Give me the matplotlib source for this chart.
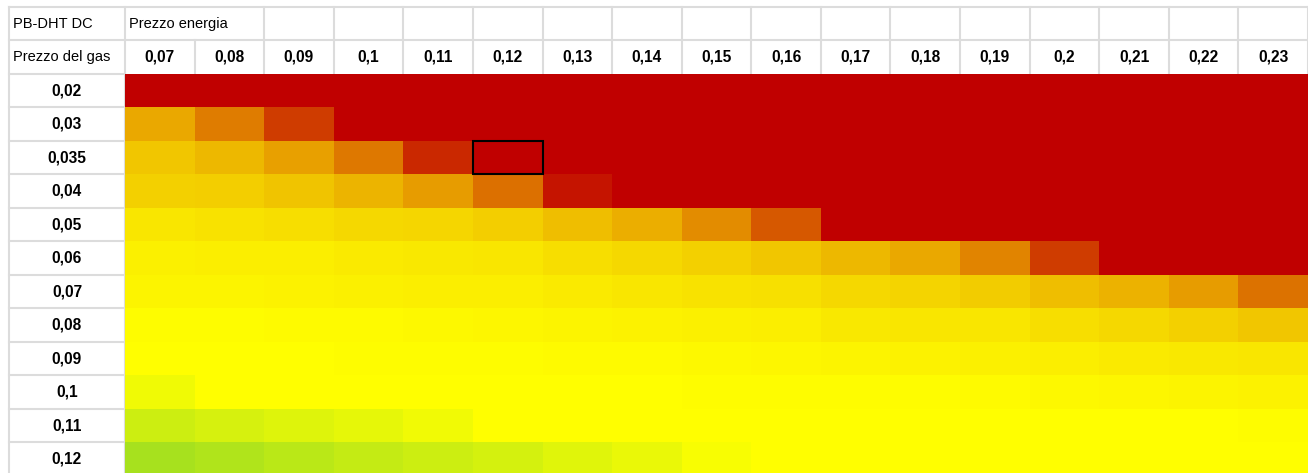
import numpy as np
import matplotlib.pyplot as plt
from matplotlib import font_manager
from matplotlib.colors import LinearSegmentedColormap, Normalize
from matplotlib.patches import Rectangle

# Setting plot parameters (narrow font if there is one, otherwise Liberation Sans a bit smaller)
try:
    narrow = font_manager.findfont(font_manager.FontProperties(family='Liberation Sans Narrow'),
                                   fallback_to_default=False)
except ValueError:
    narrow = ''
if 'Narrow' in narrow:
    plt.rcParams['font.family'] = ['Liberation Sans Narrow', 'DejaVu Sans']
    fs_reg, fs_bold = 12.5, 13
else:
    plt.rcParams['font.family'] = ['Liberation Sans', 'DejaVu Sans']
    fs_reg, fs_bold = 10.5, 11.2

# TABLE LABELS
titolo = 'PB-DHT DC'
titolo_colonne = 'Prezzo energia'
titolo_righe = 'Prezzo del gas'
prezzo_energia = ['0,07', '0,08', '0,09', '0,1', '0,11', '0,12', '0,13', '0,14', '0,15',
                  '0,16', '0,17', '0,18', '0,19', '0,2', '0,21', '0,22', '0,23']
prezzo_gas = ['0,02', '0,03', '0,035', '0,04', '0,05', '0,06', '0,07', '0,08', '0,09',
              '0,1', '0,11', '0,12']
cella_evidenziata = ('0,035', '0,12')

# COLOUR LEVEL OF EACH CELL (-1 green, 0 yellow, 1 red / saturated)
livello = [
    [1, 1, 1, 1, 1, 1, 1, 1, 1, 1, 1, 1, 1, 1, 1, 1, 1],
    [0.34, 0.51, 0.76, 1, 1, 1, 1, 1, 1, 1, 1, 1, 1, 1, 1, 1, 1],
    [0.22, 0.28, 0.37, 0.53, 0.84, 1, 1, 1, 1, 1, 1, 1, 1, 1, 1, 1, 1],
    [0.18, 0.19, 0.23, 0.29, 0.39, 0.56, 0.92, 1, 1, 1, 1, 1, 1, 1, 1, 1, 1],
    [0.10, 0.11, 0.13, 0.15, 0.16, 0.19, 0.25, 0.32, 0.45, 0.65, 1, 1, 1, 1, 1, 1, 1],
    [0.06, 0.07, 0.07, 0.08, 0.09, 0.10, 0.13, 0.15, 0.18, 0.22, 0.28, 0.34, 0.48, 0.76, 1, 1, 1],
    [0.04, 0.04, 0.05, 0.06, 0.07, 0.07, 0.08, 0.10, 0.11, 0.12, 0.15, 0.17, 0.20, 0.25, 0.30, 0.39, 0.55],
    [0.01, 0.015, 0.02, 0.02, 0.03, 0.035, 0.04, 0.05, 0.06, 0.07, 0.09, 0.10, 0.10, 0.13, 0.15, 0.18, 0.22],
    [0, 0.005, 0.005, 0.01, 0.01, 0.015, 0.02, 0.02, 0.025, 0.035, 0.04, 0.05, 0.06, 0.07, 0.08, 0.09, 0.10],
    [-0.17, 0, 0, 0, 0, 0, 0.005, 0.005, 0.01, 0.01, 0.01, 0.01, 0.02, 0.025, 0.035, 0.04, 0.05],
    [-0.57, -0.46, -0.37, -0.28, -0.15, 0, 0, 0, 0, 0, 0, 0, 0, 0, 0, 0.005, 0.01],
    [-0.98, -0.89, -0.78, -0.66, -0.57, -0.48, -0.35, -0.24, -0.08, 0, 0, 0, 0, 0, 0, 0, 0],
]

cmap = LinearSegmentedColormap.from_list('scala', ['#A6E11E', '#FFFF00', '#C00000'])
griglia = '#DCDCDC'

fig = plt.figure(figsize=(13.08, 4.73), dpi=100)
# data block: x from 125 px to the right edge, rows 33.5 px tall starting at y = 74 px
ax = fig.add_axes([125 / 1308, (473 - 476) / 473, 1183 / 1308, 402 / 473])

n_col = len(prezzo_energia)
n_row = len(prezzo_gas)
ax.pcolormesh(np.arange(n_col + 1), np.arange(n_row + 1), np.array(livello),
              cmap=cmap, norm=Normalize(-1, 1), shading='flat')
ax.set_xlim(0, n_col)
ax.set_ylim(n_row, 0)
ax.axis('off')

x_sx = -1.667  # left border of the label column

# GRID LINES OF THE HEADER AND LABEL COLUMN
kw = dict(color=griglia, lw=1.5, clip_on=False, zorder=0)
ax.plot([x_sx, n_col], [-2, -2], **kw)
ax.plot([x_sx, n_col], [-1, -1], **kw)
ax.plot([x_sx, 0], [0, 0], **kw)
for i in range(1, n_row):
    ax.plot([x_sx, 0], [i, i], **kw)
ax.plot([x_sx, x_sx], [-2, n_row], **kw)
ax.plot([0, 0], [-2, n_row], **kw)
for j in range(1, n_col + 1):
    y0 = -1 if j == 1 else -2
    ax.plot([j, j], [y0, 0], **kw)

# HEADER TEXTS
ax.text(x_sx + 0.06, -1.5, titolo, ha='left', va='center', fontsize=fs_reg, clip_on=False)
ax.text(0.06, -1.5, titolo_colonne, ha='left', va='center', fontsize=fs_reg, clip_on=False)
ax.text(x_sx + 0.06, -0.5, titolo_righe, ha='left', va='center', fontsize=fs_reg, clip_on=False)
for j, lab in enumerate(prezzo_energia):
    ax.text(j + 0.5, -0.5, lab, ha='center', va='center', fontsize=fs_bold,
            fontweight='bold', clip_on=False)
for i, lab in enumerate(prezzo_gas):
    ax.text(x_sx / 2, i + 0.5, lab, ha='center', va='center', fontsize=fs_bold,
            fontweight='bold', clip_on=False)

# HIGHLIGHTED CELL
r = prezzo_gas.index(cella_evidenziata[0])
c = prezzo_energia.index(cella_evidenziata[1])
ax.add_patch(Rectangle((c, r), 1, 1, fill=False, ec='black', lw=1.5, zorder=3))

fig.savefig('out.png', dpi=100)
